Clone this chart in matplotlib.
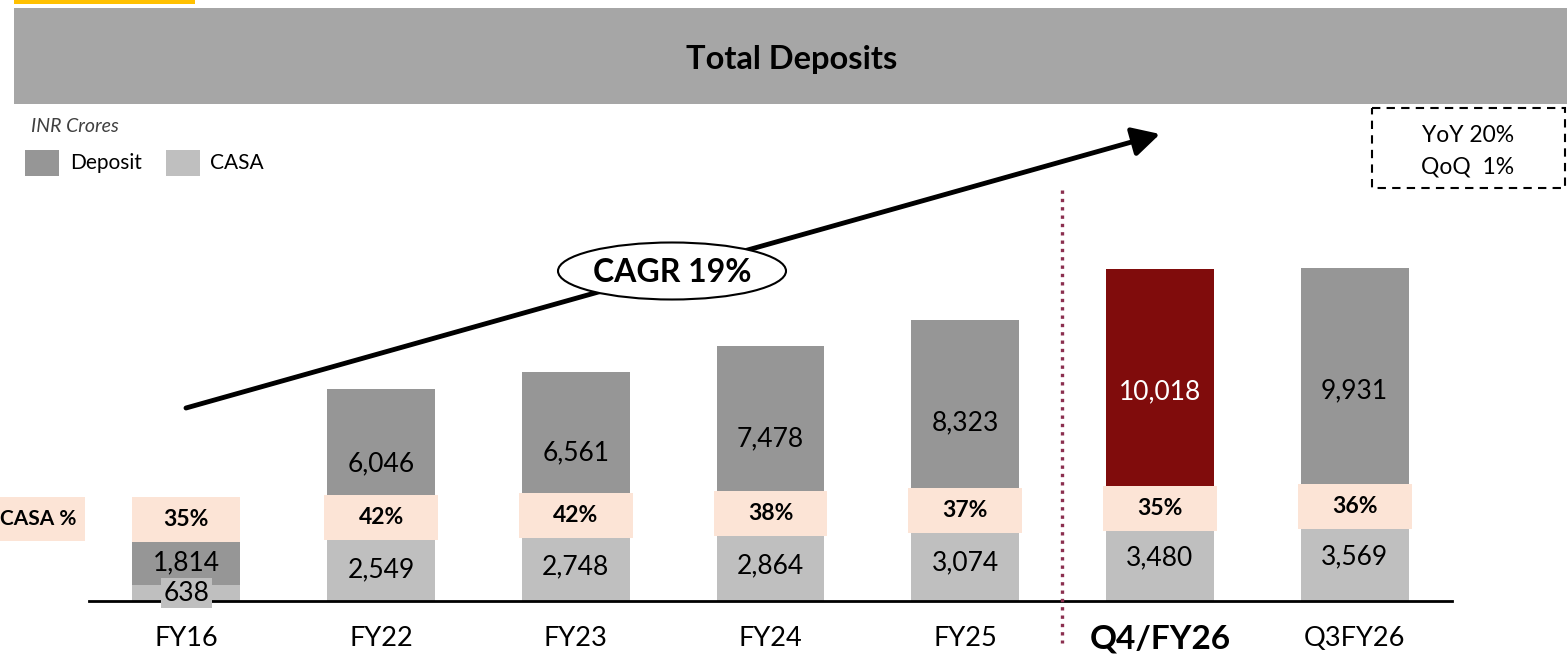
import numpy as np
import matplotlib
matplotlib.use("Agg")
import matplotlib.pyplot as plt
from matplotlib.patches import Rectangle, Ellipse

plt.rcParams['font.family'] = ['Lato', 'DejaVu Sans']

# data (INR Crores)
periods = ["FY16", "FY22", "FY23", "FY24", "FY25", "Q4/FY26", "Q3FY26"]
deposit = [1814, 6046, 6561, 7478, 8323, 10018, 9931]
casa = [638, 2549, 2748, 2864, 3074, 3480, 3569]
casa_pct = ["35%", "42%", "42%", "38%", "37%", "35%", "36%"]
highlight = "Q4/FY26"
cagr_text = "CAGR 19%"
growth_lines = ["YoY 20%", "QoQ  1%"]

W, H = 1567, 663
fig = plt.figure(figsize=(W / 100, H / 100), dpi=100)

# main bar axes (pixel layout: baseline at y=601, x from 89 to 1452)
px_per_unit = 0.02463
ax = fig.add_axes([89 / W, 62 / H, (1452 - 89) / W, 601 / H])
ax.set_xlim(-0.5, len(periods) - 0.5)
ax.set_ylim(0, 601 / px_per_unit)
ax.patch.set_alpha(0)
for s in ["top", "right", "left"]:
    ax.spines[s].set_visible(False)
ax.spines["bottom"].set_linewidth(2)
ax.set_yticks([])
ax.set_xticks([])

x = np.arange(len(periods))
bw = 0.554
dep_colors = ["#800C0C" if p == highlight else "#969696" for p in periods]
ax.bar(x, casa, width=bw, color="#BFBFBF", zorder=2)
ax.bar(x, deposit, width=bw, bottom=casa, color=dep_colors, zorder=2)

for i, p in enumerate(periods):
    c = casa[i]
    d = deposit[i]
    # deposit value in middle of its segment
    ax.text(i, c + d / 2, f"{d:,}", ha="center", va="center", fontsize=19,
            color="white" if p == highlight else "black", zorder=5)
    # casa value
    if c < 1000:
        ax.text(i, c / 2, f"{c:,}", ha="center", va="center", fontsize=19, zorder=5,
                bbox=dict(boxstyle="square,pad=0.1", fc="#BFBFBF", ec="none"))
    else:
        ax.text(i, c / 2, f"{c:,}", ha="center", va="center", fontsize=19, zorder=5)
    # CASA % box
    cy = 3300 + 90 * i
    bh = 45 / px_per_unit
    bwid = bw if i == 0 else 0.585
    ax.add_patch(Rectangle((i - bwid / 2, cy - bh / 2), bwid, bh, fc="#FCE4D6", ec="none", zorder=4))
    ax.text(i, cy, casa_pct[i], ha="center", va="center", fontsize=16.5, fontweight="bold", zorder=5)
    # category label
    ax.text(i, -38 / 601, p, transform=ax.get_xaxis_transform(), ha="center", va="center",
            fontsize=24 if p == highlight else 19.5,
            fontweight="bold" if p == highlight else "normal")

# overlay in pixel coordinates for the decorations
deco = fig.add_axes([0, 0, 1, 1])
deco.set_xlim(0, W)
deco.set_ylim(H, 0)
deco.axis("off")
deco.patch.set_alpha(0)

deco.add_patch(Rectangle((14, 0), 181, 3.5, fc="#FFC000", ec="none"))
deco.add_patch(Rectangle((14, 8), W - 14, 96, fc="#A6A6A6", ec="none"))
deco.text(792, 60, "Total Deposits", ha="center", va="center", fontsize=23.5, fontweight="bold")

deco.text(31, 127, "INR Crores", ha="left", va="center", fontsize=14, style="italic", color="#404040")
deco.add_patch(Rectangle((25, 150), 34, 26, fc="#969696", ec="none"))
deco.text(70, 163, "Deposit", ha="left", va="center", fontsize=15)
deco.add_patch(Rectangle((166, 150), 34, 26, fc="#BFBFBF", ec="none"))
deco.text(210, 163, "CASA", ha="left", va="center", fontsize=15)

# CASA % row label
deco.add_patch(Rectangle((0, 497), 85, 44, fc="#FCE4D6", ec="none"))
deco.text(76, 519, "CASA %", ha="right", va="center", fontsize=15, fontweight="bold")

# growth arrow + CAGR ellipse
deco.annotate("", xy=(1160, 134), xytext=(186, 408),
              arrowprops=dict(arrowstyle="-|>,head_length=0.75,head_width=0.4",
                              lw=3.5, color="black", mutation_scale=22,
                              shrinkA=0, shrinkB=0))
deco.add_patch(Ellipse((672, 271), 228, 57, fc="white", ec="black", lw=1.5, zorder=3))
deco.text(672, 272, cagr_text, ha="center", va="center", fontsize=23, fontweight="bold", zorder=4)

# YoY / QoQ dashed box
deco.add_patch(Rectangle((1372, 108), 193, 80, fc="none", ec="black", lw=1.5, ls=(0, (4, 3))))
deco.text(1468, 135, growth_lines[0], ha="center", va="center", fontsize=16.5)
deco.text(1468, 167, growth_lines[1], ha="center", va="center", fontsize=16.5)

# dotted divider
deco.plot([1061.5, 1061.5], [190, 643], color="#8B2F4F", lw=2.4, ls=(0, (1, 1.5)))

fig.savefig("out.png", dpi=100)
